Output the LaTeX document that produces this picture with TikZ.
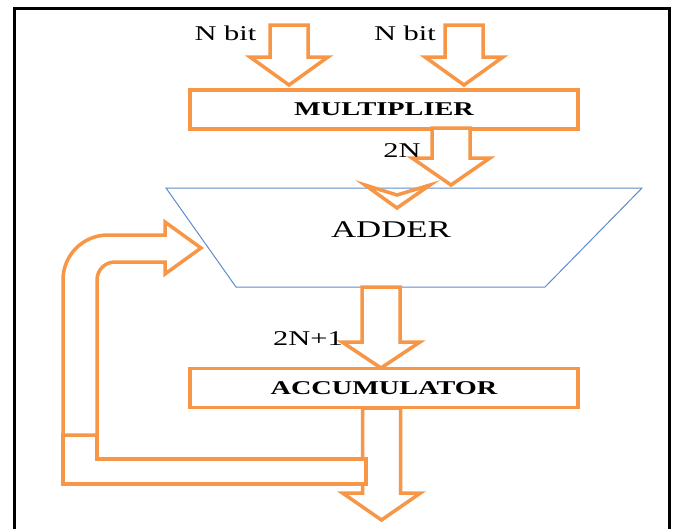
\documentclass[tikz,border=0pt]{standalone}
\usepackage{fontspec}
\setmainfont{Liberation Serif}[FakeStretch=1.45]
\usepackage{tikz}
\usetikzlibrary{calc}
\definecolor{macOrange}{RGB}{247,150,70}
\definecolor{macBlue}{RGB}{95,140,200}
% fat down arrow: centre x, top, head base, tip
\newcommand{\fatarrow}[4]{%
  \draw[flow] (#1-19,#2) -- (#1+19,#2) -- (#1+19,#3) -- (#1+39,#3) -- (#1,#4)
    -- (#1-39,#3) -- (#1-19,#3) -- cycle;}
\tikzset{
  flow/.style={draw=macOrange,fill=white,line width=3.5pt,line join=miter},
  unitbox/.style={draw=macOrange,fill=white,line width=3.5pt,minimum width=388pt,
    minimum height=39pt,inner sep=0pt,font=\fontsize{19.5}{22}\selectfont\bfseries},
  lbl/.style={font=\fontsize{21}{24}\selectfont,inner sep=0pt,anchor=base}
}

\begin{document}
\begin{tikzpicture}[x=1pt,y=-1pt]
\useasboundingbox (0,0) rectangle (677,528);
% frame
\draw[line width=3pt] (14,545) -- (14,8) -- (669,8) -- (669,545);
% adder
\draw[macBlue,line width=1pt] (166,188) -- (642,188) -- (545,287) -- (236,287) -- cycle;
\node[font=\fontsize{24}{28}\selectfont,inner sep=0pt] (adder) at (391,230) {ADDER};
% units
\node[unitbox] (mult) at (384,109.5) {MULTIPLIER};
\node[unitbox] (acc) at (384,388) {ACCUMULATOR};
% arrows
\fatarrow{289}{25}{57}{85}
\fatarrow{464}{25}{57}{85}
\fatarrow{451}{128}{158}{185}
\fatarrow{381}{287}{342}{368}
\fatarrow{381.5}{408}{493}{520}
\draw[flow] (365,185) -- (397,195) -- (430,185) -- (397,208) -- cycle;
% feedback
\draw[flow] (63,435) -- (97,435) -- (97,459) -- (366,459) -- (366,484) -- (63,484) -- cycle;
\draw[flow] (63,435) -- (63,280) .. controls (63,255) and (83,235) .. (108,235)
  -- (165,235) -- (165,222) -- (201,248) -- (165,274) -- (165,262) -- (115,262)
  .. controls (105,262) and (97,270) .. (97,280) -- (97,435) -- cycle;
% labels
\node[lbl] (inA) at (225.5,40) {N bit};
\node[lbl] (inB) at (405,40) {N bit};
\node[lbl] (prod) at (402,157) {2N};
\node[lbl] (sum) at (308,345) {2N+1};
\end{tikzpicture}
\end{document}
